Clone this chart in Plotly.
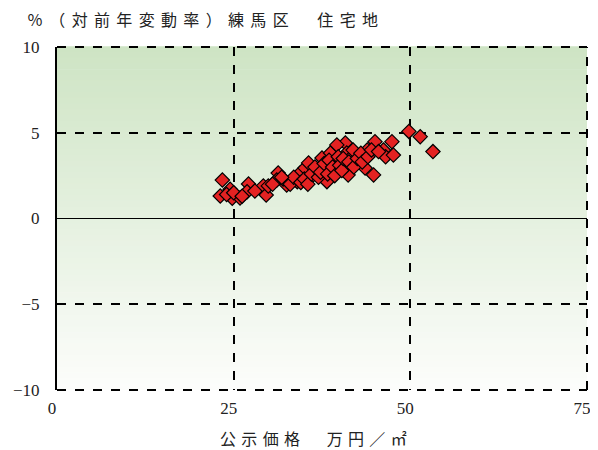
import plotly.graph_objects as go

# 公示価格（万円／㎡）と対前年変動率（％）
price = [23.4, 23.1, 24.5, 24.8, 25.9, 27.1, 26.9, 29.2, 29.6, 31.3,
         31.1, 32.5, 34.0, 34.4, 35.1, 35.6, 36.8, 35.8, 38.2, 37.5,
         38.7, 38.0, 38.7, 39.6, 40.8, 39.6, 41.0, 41.7, 41.9, 41.2,
         43.6, 44.8, 43.9, 45.0, 46.2, 46.5, 47.4, 47.6, 49.8, 51.4,
         53.2, 32.0, 33.0, 33.5, 34.5, 35.0, 35.5, 36.0, 36.5, 37.0,
         37.3, 37.8, 38.3, 38.5, 39.0, 39.3, 39.8, 40.0, 40.3, 40.5,
         41.3, 42.0, 42.5, 43.0, 43.2, 44.0, 44.5, 45.5, 29.9, 28.0,
         24.0, 25.0, 26.2, 30.5, 31.8]
change = [2.24, 1.31, 1.70, 1.18, 1.20, 2.01, 1.56, 1.90, 1.37, 2.65,
          2.24, 1.95, 2.15, 2.65, 2.94, 3.24, 2.83, 2.36, 2.15, 3.53,
          3.82, 3.02, 2.94, 3.41, 4.40, 4.29, 3.82, 3.60, 3.99, 2.54,
          2.94, 2.54, 3.99, 4.48, 3.99, 3.60, 4.48, 3.70, 5.08, 4.77,
          3.90, 2.30, 2.00, 2.40, 2.10, 2.30, 2.00, 2.60, 3.00, 2.40,
          2.70, 3.20, 2.60, 3.40, 3.00, 2.50, 3.60, 3.10, 2.80, 3.50,
          3.30, 3.00, 3.50, 3.80, 3.30, 3.60, 4.00, 3.90, 1.90, 1.60,
          1.40, 1.50, 1.30, 2.00, 2.40]

x_ticks = [0, 25, 50, 75]
y_ticks = [-10, -5, 0, 5, 10]

sp = "\u2004\u200a"  # タイトルの文字間
sp2 = "\u2004"       # 軸タイトルの文字間
title_text = sp.join("％（対前年変動率）練馬区") + sp + "\u3000" + sp + sp.join("住宅地")
x_title = sp2.join("公示価格") + sp2 + "\u3000" + sp2 + sp2.join("万円／㎡")

serif = "Liberation Serif, DejaVu Serif, serif"
cjk = "Noto Sans CJK JP, sans-serif"

# ページ本体の余白 8px を差し引いたサイズ
W, H = 590, 442
L, R, T, B = 49, 11, 39, 60

fig = go.Figure()

fig.add_trace(go.Scatter(
    x=price, y=change, mode="markers",
    marker=dict(symbol="diamond", size=11, color="#e42222",
                line=dict(color="black", width=1.2)),
    showlegend=False, cliponaxis=False))

# グラデーション背景（上：薄緑 → 下：白）
n = 60
top = (206, 228, 196)
bot = (252, 253, 251)
shapes = []
for i in range(n):
    t = i / (n - 1)
    c = tuple(round(top[k] + (bot[k] - top[k]) * t) for k in range(3))
    shapes.append(dict(type="rect", xref="x domain", yref="y domain",
                       x0=0, x1=1, y0=1 - (i + 1) / n, y1=1 - i / n + 0.002,
                       fillcolor="rgb(%d,%d,%d)" % c, line=dict(width=0),
                       layer="below"))

# 枠の破線（上・右・下）
dash = dict(color="black", width=2, dash="dash")
for x0, y0, x1, y1 in [(0, 1, 1, 1), (1, 0, 1, 1), (0, 0, 1, 0)]:
    shapes.append(dict(type="line", xref="x domain", yref="y domain",
                       x0=x0, y0=y0, x1=x1, y1=y1, line=dash, layer="above"))

fig.update_layout(
    width=W, height=H,
    margin=dict(l=L, r=R, t=T, b=B),
    paper_bgcolor="white", plot_bgcolor="white",
    shapes=shapes,
    title=dict(text=title_text, x=19 / W, xanchor="left", y=1 - 12 / H, yanchor="middle",
               font=dict(family=cjk, size=16, color="#222")),
    font=dict(family=serif, size=17, color="#222"),
    annotations=[dict(text=x_title, xref="paper", yref="paper",
                      x=(305 - L) / (W - L - R), y=0, yshift=-48,
                      xanchor="center", yanchor="middle", showarrow=False,
                      font=dict(family=cjk, size=16, color="#222"))],
)

fig.update_xaxes(
    range=[0, 75], tickvals=x_ticks, showgrid=True, gridcolor="black",
    gridwidth=2, griddash="dash", zeroline=False, showline=False,
    ticks="", ticklabelstandoff=6, ticklabelshift=-5, automargin=False)

fig.update_yaxes(
    range=[-10, 10], tickvals=y_ticks, showgrid=True, gridcolor="black",
    gridwidth=2, griddash="dash", zeroline=True, zerolinecolor="black",
    zerolinewidth=1, showline=True, linecolor="black", linewidth=2,
    ticks="", ticklabelstandoff=12, automargin=False)

fig.write_html("out.html")
